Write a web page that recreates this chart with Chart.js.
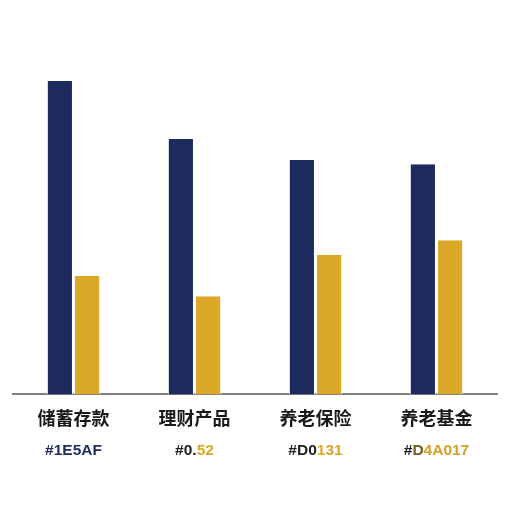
<!DOCTYPE html>
<html>
<head>
<meta charset="utf-8">
<script src="https://cdn.jsdelivr.net/npm/chart.js@4/dist/chart.umd.min.js"></script>
<style>
  body { margin: 0; background: #fff; }
</style>
</head>
<body>
<canvas id="barChart" width="512" height="512"></canvas>
<script>
const categories = ['储蓄存款', '理财产品', '养老保险', '养老基金'];
const seriesNavy = [83.7, 68.2, 62.6, 61.5];
const seriesGold = [31.6, 26.2, 37.2, 41.2];
// second row of text under each category, split where the colour changes
const subLabelParts = [['#1E5AF'], ['#0.', '52'], ['#D0', '131'], ['#', 'D', '4A017']];
const subLabelColors = [['#1c2a5e'], ['#222222', '#dba726'], ['#222222', '#dba726'], ['#222222', '#6e5a22', '#d4a224']];

const navy = '#1c2a5e';
const gold = '#dca828';

// draws the coloured code row under the category names
const subLabelPlugin = {
  id: 'subLabels',
  afterDraw(chart) {
    const c = chart.ctx;
    const xs = chart.scales.x;
    c.save();
    c.font = 'bold 15.5px "Liberation Sans", Arial, sans-serif';
    c.textBaseline = 'middle';
    c.textAlign = 'left';
    subLabelParts.forEach((parts, i) => {
      const total = parts.reduce((w, p) => w + c.measureText(p).width, 0);
      let x = xs.getPixelForValue(i) - total / 2;
      parts.forEach((p, j) => {
        c.fillStyle = subLabelColors[i][j];
        c.fillText(p, x, 451);
        x += c.measureText(p).width;
      });
    });
    c.restore();
  }
};

new Chart(document.getElementById('barChart'), {
  type: 'bar',
  data: {
    labels: categories,
    datasets: [{
      data: seriesNavy,
      backgroundColor: navy,
      borderColor: '#ffffff',
      borderWidth: { left: 1, right: 1 },
      barPercentage: 0.96,
      categoryPercentage: 0.45
    }, {
      data: seriesGold,
      backgroundColor: gold,
      borderColor: '#ffffff',
      borderWidth: { left: 1, right: 1 },
      barPercentage: 0.96,
      categoryPercentage: 0.45
    }]
  },
  options: {
    responsive: false,
    animation: false,
    layout: {
      padding: { top: 20, left: 13, right: 15, bottom: 78 }
    },
    scales: {
      y: {
        display: false,
        min: 0,
        max: 100
      },
      x: {
        grid: { display: false },
        border: { display: true, color: '#7f7f7f', width: 2 },
        ticks: {
          color: '#1a1a1a',
          padding: 5,
          font: { size: 18, weight: 'bold', family: '"Noto Sans CJK SC", sans-serif' }
        }
      }
    },
    plugins: {
      legend: { display: false },
      tooltip: { enabled: false }
    }
  },
  plugins: [subLabelPlugin]
});
</script>
</body>
</html>
